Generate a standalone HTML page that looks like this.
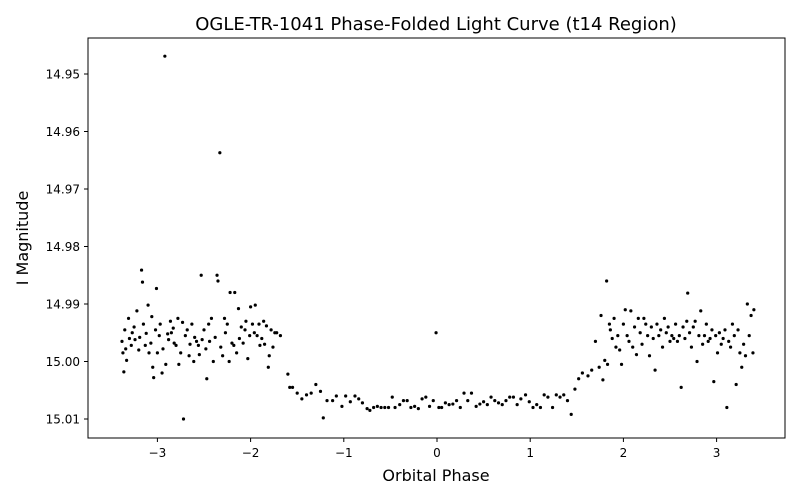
<!DOCTYPE html>
<html><head><meta charset="utf-8"><style>
body{margin:0;background:#fff;}
svg{display:block;font-family:"DejaVu Sans","Liberation Sans",sans-serif;}
</style></head><body>
<svg id="chart" width="800" height="500">
<rect x="0" y="0" width="800" height="500" fill="#fff"/>
<text x="436" y="30" font-size="18" text-anchor="middle">OGLE-TR-1041 Phase-Folded Light Curve (t14 Region)</text>
<text x="436" y="481" font-size="16" text-anchor="middle">Orbital Phase</text>
<text x="28" y="238" font-size="16" text-anchor="middle" transform="rotate(-90 28 238)">I Magnitude</text>
<g id="xticks"></g><g id="yticks"></g><g id="points"></g>
<rect x="88" y="38" width="697" height="400" fill="none" stroke="#000" stroke-width="1"/>
</svg>
<script>
const xTicks=[-3,-2,-1,0,1,2,3];
const xTickLabels=["\u22123","\u22122","\u22121","0","1","2","3"];
const yTicks=[14.95,14.96,14.97,14.98,14.99,15.00,15.01];
const yTickLabels=["14.95","14.96","14.97","14.98","14.99","15.00","15.01"];
const phase=[-3.38,-3.37,-3.36,-3.35,-3.34,-3.33,-3.31,-3.30,-3.28,-3.27,-3.25,-3.24,-3.22,-3.20,-3.19,-3.17,-3.16,-3.15,-3.13,-3.12,-3.10,-3.09,-3.07,-3.06,-3.05,-3.04,-3.02,-3.01,-3.00,-2.98,-2.97,-2.95,-2.94,-2.92,-2.91,-2.89,-2.88,-2.86,-2.85,-2.83,-2.82,-2.80,-2.78,-2.77,-2.75,-2.73,-2.72,-2.70,-2.68,-2.66,-2.65,-2.63,-2.61,-2.60,-2.58,-2.56,-2.55,-2.53,-2.52,-2.50,-2.48,-2.47,-2.45,-2.44,-2.42,-2.40,-2.38,-2.36,-2.35,-2.33,-2.32,-2.30,-2.28,-2.27,-2.25,-2.23,-2.22,-2.20,-2.18,-2.17,-2.15,-2.13,-2.12,-2.10,-2.08,-2.06,-2.05,-2.03,-2.01,-2.00,-1.98,-1.96,-1.95,-1.93,-1.91,-1.90,-1.88,-1.86,-1.85,-1.83,-1.81,-1.80,-1.78,-1.76,-1.74,-1.72,-1.68,
-1.60,-1.58,-1.55,-1.50,-1.45,-1.40,-1.35,-1.30,-1.25,-1.22,-1.18,-1.12,-1.08,-1.02,-0.98,-0.93,-0.88,-0.84,-0.80,-0.75,-0.72,-0.68,-0.64,-0.60,-0.56,-0.52,-0.48,-0.45,-0.40,-0.36,-0.32,-0.28,-0.24,-0.20,-0.16,-0.12,-0.08,-0.04,-0.01,0.02,0.05,0.09,0.13,0.17,0.21,0.25,0.29,0.33,0.37,0.42,0.46,0.50,0.54,0.58,0.62,0.66,0.70,0.74,0.78,0.82,0.86,0.90,0.95,0.99,1.03,1.07,1.11,1.15,1.19,1.24,1.28,1.32,1.36,1.40,1.44,1.48,1.52,1.56,
1.62,1.66,1.70,1.74,1.76,1.78,1.80,1.82,1.83,1.85,1.86,1.88,1.90,1.92,1.94,1.96,1.98,2.00,2.02,2.04,2.06,2.08,2.10,2.12,2.14,2.16,2.18,2.20,2.22,2.24,2.26,2.28,2.30,2.32,2.34,2.36,2.38,2.40,2.42,2.44,2.46,2.48,2.50,2.52,2.54,2.56,2.58,2.60,2.62,2.64,2.66,2.68,2.69,2.71,2.73,2.75,2.77,2.79,2.81,2.83,2.85,2.87,2.89,2.91,2.93,2.95,2.97,2.99,3.01,3.03,3.05,3.07,3.09,3.11,3.13,3.15,3.17,3.19,3.21,3.23,3.25,3.27,3.29,3.31,3.33,3.35,3.37,3.39,3.40];
const mag=[14.9965,14.9985,15.0018,14.9945,14.9978,14.9998,14.9925,14.9960,14.9972,14.9950,14.9940,14.9962,14.9912,14.9980,14.9958,14.9841,14.9862,14.9935,14.9972,14.9951,14.9902,14.9985,14.9968,14.9922,15.0010,15.0028,14.9945,14.9873,14.9985,14.9955,14.9935,15.0020,14.9978,14.9469,15.0005,14.9952,14.9962,14.9930,14.9950,14.9942,14.9968,14.9972,14.9925,15.0005,14.9985,14.9932,15.0100,14.9955,14.9945,14.9990,14.9970,14.9935,15.0000,14.9958,14.9965,14.9972,14.9988,14.9850,14.9962,14.9945,14.9978,15.0030,14.9935,14.9965,14.9925,15.0000,14.9958,14.9850,14.9860,14.9637,14.9975,14.9990,14.9925,14.9950,14.9935,15.0000,14.9880,14.9968,14.9972,14.9880,14.9985,14.9908,14.9960,14.9940,14.9968,14.9945,14.9930,14.9995,14.9955,14.9905,14.9935,14.9950,14.9902,14.9955,14.9935,14.9972,14.9960,14.9930,14.9970,14.9938,15.0010,14.9990,14.9945,14.9975,14.9950,14.9950,14.9955,
15.0022,15.0045,15.0045,15.0055,15.0065,15.0058,15.0055,15.0040,15.0052,15.0098,15.0068,15.0068,15.0060,15.0078,15.0060,15.0070,15.0060,15.0065,15.0072,15.0082,15.0085,15.0080,15.0078,15.0080,15.0080,15.0080,15.0062,15.0080,15.0075,15.0068,15.0068,15.0080,15.0078,15.0082,15.0065,15.0062,15.0078,15.0068,14.9950,15.0080,15.0080,15.0072,15.0075,15.0074,15.0068,15.0080,15.0055,15.0068,15.0055,15.0078,15.0074,15.0070,15.0075,15.0062,15.0068,15.0072,15.0075,15.0068,15.0062,15.0062,15.0075,15.0065,15.0058,15.0070,15.0080,15.0075,15.0080,15.0058,15.0062,15.0080,15.0058,15.0062,15.0058,15.0068,15.0092,15.0048,15.0030,15.0020,
15.0025,15.0015,14.9965,15.0010,14.9920,15.0032,14.9998,14.9860,15.0005,14.9935,14.9945,14.9960,14.9925,14.9975,14.9955,14.9980,15.0005,14.9935,14.9910,14.9955,14.9965,14.9912,14.9975,14.9940,14.9988,14.9925,14.9950,14.9970,14.9925,14.9935,14.9955,14.9990,14.9940,14.9960,15.0015,14.9935,14.9955,14.9945,14.9975,14.9925,14.9950,14.9940,14.9965,14.9955,14.9960,14.9935,14.9965,14.9955,15.0045,14.9940,14.9960,14.9930,14.9881,14.9950,14.9975,14.9940,14.9930,15.0000,14.9955,14.9912,14.9970,14.9955,14.9935,14.9965,14.9960,14.9945,15.0035,14.9955,14.9985,14.9950,14.9970,14.9960,14.9945,15.0080,14.9965,14.9975,14.9935,14.9955,15.0040,14.9945,14.9985,15.0010,14.9970,14.9990,14.9900,14.9955,14.9920,14.9985,14.9910];

const NS="http://www.w3.org/2000/svg";
function xScale(v){return 437+(v-0)*93.2;}
function yScale(v){return 74+(v-14.95)*5750;}
const gx=document.getElementById('xticks'),gy=document.getElementById('yticks'),gp=document.getElementById('points');
xTicks.forEach((t,i)=>{
  const x=xScale(t);
  const l=document.createElementNS(NS,'line');
  l.setAttribute('x1',x);l.setAttribute('x2',x);l.setAttribute('y1',438);l.setAttribute('y2',442);l.setAttribute('stroke','#000');
  
  
  gx.appendChild(l);
  const tx=document.createElementNS(NS,'text');
  tx.setAttribute('x',x);tx.setAttribute('y',457);tx.setAttribute('font-size','12');tx.setAttribute('text-anchor','middle');
  tx.textContent=xTickLabels[i];
  
  
  gx.appendChild(tx);
});
yTicks.forEach((t,i)=>{
  const y=yScale(t);
  const l=document.createElementNS(NS,'line');
  l.setAttribute('x1',84);l.setAttribute('x2',88);l.setAttribute('y1',y);l.setAttribute('y2',y);l.setAttribute('stroke','#000');
  
  
  gy.appendChild(l);
  const tx=document.createElementNS(NS,'text');
  tx.setAttribute('x',80);tx.setAttribute('y',y+4.5);tx.setAttribute('font-size','12');tx.setAttribute('text-anchor','end');
  tx.textContent=yTickLabels[i];
  
  
  gy.appendChild(tx);
});
phase.forEach((p,i)=>{
  const c=document.createElementNS(NS,'circle');
  c.setAttribute('cx',xScale(p));c.setAttribute('cy',yScale(mag[i]));c.setAttribute('r',1.6);c.setAttribute('fill','#000');
  
  
  gp.appendChild(c);
});
</script>
</body></html>
